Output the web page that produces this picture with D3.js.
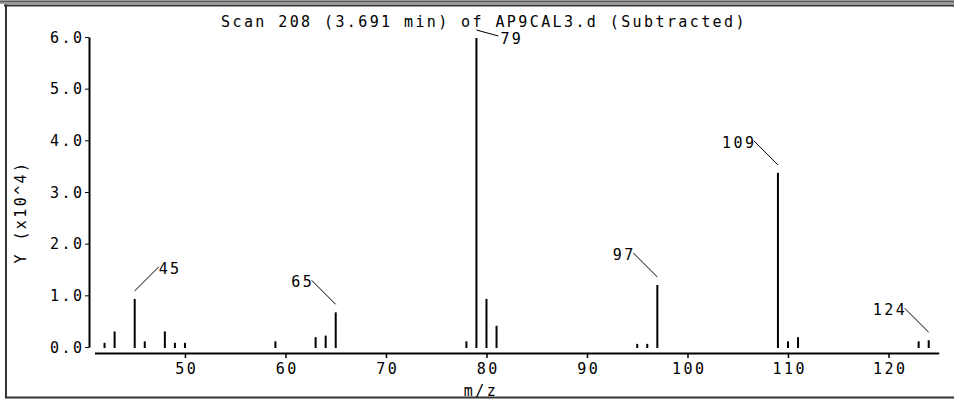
<!DOCTYPE html>
<html>
<head>
<meta charset="utf-8">
<script src="https://cdn.jsdelivr.net/npm/d3@7"></script>
<style>
  html, body { margin: 0; padding: 0; background: #fff; }
  svg { display: block; }
  text { font-family: "DejaVu Sans Mono", "Liberation Mono", monospace; font-size: 15px; letter-spacing: 2.4px; fill: #000; }
</style>
</head>
<body>
<script>
// ---- data ----
const title = "Scan 208 (3.691 min) of AP9CAL3.d (Subtracted)";
const xLabel = "m/z";
const yLabel = "Y (x10^4)";
const mz =        [42,  43,   45,   46,   48,   49,  50,  59,   63,   64,   65,   78,   79,  80,   81,   95,   96,   97,   109,  110,  111,  123,  124];
const intensity = [0.10,0.32, 0.95, 0.13, 0.32, 0.10,0.10,0.13, 0.21, 0.24, 0.69, 0.13, 6.0, 0.95, 0.43, 0.08, 0.08, 1.22, 3.39, 0.13, 0.21, 0.13, 0.15];
const labeledMz = [45, 65, 79, 97, 109, 124];
const xTicks = [50, 60, 70, 80, 90, 100, 110, 120];
const yTicks = [0, 1, 2, 3, 4, 5, 6];

// ---- layout ----
const W = 954, H = 399;
const svg = d3.select("body").append("svg").attr("width", W).attr("height", H);

const x = d3.scaleLinear().domain([41, 125]).range([94.5, 938.75]);
const y = d3.scaleLinear().domain([0, 6]).range([347, 37]);

// frame
svg.append("rect").attr("x", 0).attr("y", 0).attr("width", W).attr("height", 4).attr("fill", "#9a9a9a");
svg.append("line").attr("x1", 0).attr("x2", W).attr("y1", 1.5).attr("y2", 1.5).attr("stroke", "#555").attr("stroke-width", 1);
svg.append("line").attr("x1", 4).attr("x2", W).attr("y1", 5.5).attr("y2", 5.5).attr("stroke", "#333").attr("stroke-width", 2);
svg.append("line").attr("x1", 6).attr("x2", 6).attr("y1", 4.5).attr("y2", 398).attr("stroke", "#333").attr("stroke-width", 2);
svg.append("line").attr("x1", 5).attr("x2", W).attr("y1", 397.5).attr("y2", 397.5).attr("stroke", "#333").attr("stroke-width", 2);

// title
svg.append("text").attr("x", 484).attr("y", 27).attr("text-anchor", "middle").text(title);

// y axis
const yAxis = d3.axisLeft(y).tickValues(yTicks).tickFormat(d3.format(".1f")).tickSize(4).tickSizeOuter(0).tickPadding(3);
const gy = svg.append("g").attr("transform", "translate(89,0)").call(yAxis);
gy.select(".domain").attr("stroke", "#000").attr("stroke-width", 2);
gy.selectAll(".tick line").attr("stroke", "#000").attr("stroke-width", 1);
gy.selectAll(".tick text").attr("font-family", null).attr("font-size", null).attr("dy", "0.34em").attr("dx", 2.4);

// x axis
const xAxis = d3.axisBottom(x).tickValues(xTicks).tickSize(5).tickSizeOuter(0).tickPadding(5);
const gx = svg.append("g").attr("transform", "translate(0,353)").call(xAxis);
gx.select(".domain").attr("stroke", "#000").attr("stroke-width", 2);
gx.selectAll(".tick line").attr("stroke", "#000").attr("stroke-width", 1.5);
gx.selectAll(".tick text").attr("font-family", null).attr("font-size", null).attr("dx", 1.2);

// axis titles
svg.append("text").attr("x", 481).attr("y", 396).attr("text-anchor", "middle").text(xLabel);
svg.append("text").attr("transform", "translate(26,212) rotate(-90)").attr("text-anchor", "middle").text(yLabel);

// peaks
const peaks = mz.map((m, i) => ({ m, v: intensity[i] }));
svg.append("g").selectAll("line").data(peaks).join("line")
  .attr("x1", d => x(d.m)).attr("x2", d => x(d.m))
  .attr("y1", y(0) + 1).attr("y2", d => y(d.v) + 1)
  .attr("stroke", "#000").attr("stroke-width", 2);

// peak labels with leader lines
const rightSide = new Set([45, 79]);
const lab = svg.append("g");
peaks.filter(d => labeledMz.includes(d.m)).forEach(d => {
  const px = x(d.m), py = y(d.v) + 1 - 8;
  let ex, ey, anchor;
  if (d.m === 79) { ex = px + 22; ey = py + 6; anchor = "start"; }
  else if (rightSide.has(d.m)) { ex = px + 24; ey = py - 24; anchor = "start"; }
  else { ex = px - 24; ey = py - 24; anchor = "end"; }
  lab.append("line").attr("x1", px).attr("y1", py).attr("x2", ex).attr("y2", ey)
    .attr("stroke", "#000").attr("stroke-width", 1);
  lab.append("text").attr("x", anchor === "end" ? ex + 2.4 : ex + (d.m === 79 ? 2 : 0))
    .attr("y", ey + (d.m === 79 ? 8 : 7)).attr("text-anchor", anchor).text(d.m);
});
</script>
</body>
</html>
